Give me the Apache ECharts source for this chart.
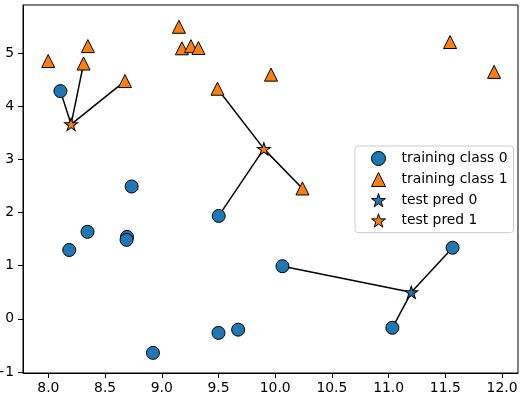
<!DOCTYPE html>
<head>
    <meta charset="utf-8"/>
    <style>
        html,body { height:100%; width:100%; margin:0; padding:0; background:#fff; }
    </style>
</head>
<body>

<div id="knn" style="width:524px;height:399px;"></div>

<script src="https://cdn.jsdelivr.net/npm/echarts@6/dist/echarts.min.js"></script>
<script type="text/javascript">

 // training points (forge)
 var trainX = [9.963, 11.033, 11.542, 8.693, 8.106, 8.310, 11.930, 9.673, 8.348, 8.675, 9.177, 10.240, 8.689,
               8.922, 9.491, 9.257, 7.998, 8.184, 8.734, 9.323, 10.064, 9.500, 8.345, 9.502, 9.151, 11.564];
 var trainY = [4.597, -0.168, 5.211, 1.543, 4.287, 4.806, 4.649, -0.203, 5.134, 4.476, 5.093, 2.455, 1.487,
               -0.640, 4.332, 5.133, 4.853, 1.296, 2.492, 5.098, 0.991, -0.264, 1.638, 1.938, 5.498, 1.339];
 var trainLabel = [1, 0, 1, 0, 0, 1, 1, 0, 1, 1, 1, 1, 0, 0, 1, 1, 1, 0, 0, 1, 0, 0, 0, 0, 1, 0];

 // test points and their predicted class
 var testX = [8.2, 9.9, 11.2];
 var testY = [3.662, 3.2, 0.5];
 var testPred = [1, 1, 0];

 var nNeighbors = 3;

 // tick labels
 var xTicks = [8.0, 8.5, 9.0, 9.5, 10.0, 10.5, 11.0, 11.5, 12.0];
 var yTicks = [-1, 0, 1, 2, 3, 4, 5];

 var blue = '#1f77b4', orange = '#ff7f0e';
 var font = 'DejaVu Sans';
 var starPath = 'path://M100 0L122.45 69.1L195.1 69.1L136.3 111.8L158.8 180.9L100 138.2L41.2 180.9L63.7 111.8L4.9 69.1L77.55 69.1Z';
 // path triangle keeps its shape in the legend, the built-in one gets stretched
 var triPath = 'path://M50 0L100 100L0 100Z';

 function pointsOf(xs, ys, labels, cls) {
     var out = [];
     for (var i = 0; i < xs.length; i++) {
         if (labels[i] === cls) out.push([xs[i], ys[i]]);
     }
     return out;
 }

 // segments from each test point to its k nearest training points
 var segments = [];
 for (var t = 0; t < testX.length; t++) {
     var idx = trainX.map(function (x, i) { return i; });
     idx.sort(function (a, b) {
         var da = Math.pow(trainX[a] - testX[t], 2) + Math.pow(trainY[a] - testY[t], 2);
         var db = Math.pow(trainX[b] - testX[t], 2) + Math.pow(trainY[b] - testY[t], 2);
         return da - db;
     });
     for (var k = 0; k < nNeighbors; k++) {
         segments.push({ coords: [[testX[t], testY[t]], [trainX[idx[k]], trainY[idx[k]]]] });
     }
 }

 function fmtY(v) { return v < 0 ? '\u2212' + Math.abs(v) : String(v); }

 var markEdge = { borderColor: '#000', borderWidth: 1, opacity: 1 };

 var option = {
     animation: false,
     backgroundColor: '#fff',
     grid: {
         left: 23, right: 6, top: 5, bottom: 26,
         outerBoundsMode: 'none',
         containLabel: false,
         show: true, borderColor: '#000', borderWidth: 1
     },
     legend: {
         data: ['training class 0', 'training class 1', 'test pred 0', 'test pred 1'],
         orient: 'vertical',
         left: 355, top: 146,
         padding: [5, 6, 5, 16],
         itemWidth: 14, itemHeight: 14, itemGap: 6,
         symbolKeepAspect: true,
         itemStyle: { borderWidth: 1, borderColor: '#000' },
         borderColor: '#cccccc', borderWidth: 1, borderRadius: 3,
         backgroundColor: 'rgba(255,255,255,0.8)',
         selectedMode: false,
         textStyle: { fontFamily: font, fontSize: 13.9, color: '#000', lineHeight: 14, padding: [0, 0, 0, 11] }
     },
     xAxis: {
         type: 'value', min: 7.776, max: 12.141,
         splitLine: { show: false },
         axisLine: { onZero: false, lineStyle: { color: '#000', width: 1 } },
         axisTick: { length: 5, lineStyle: { color: '#000' }, customValues: xTicks },
         axisLabel: {
             margin: 8, fontFamily: font, fontSize: 13.9, color: '#000',
             customValues: xTicks,
             formatter: function (v) { return v.toFixed(1); }
         }
     },
     yAxis: {
         type: 'value', min: -1.019, max: 5.908,
         splitLine: { show: false },
         axisLine: { onZero: false, lineStyle: { color: '#000', width: 1 } },
         axisTick: { length: 5, lineStyle: { color: '#000' }, customValues: yTicks },
         axisLabel: {
             margin: 9, fontFamily: font, fontSize: 13.9, color: '#000',
             customValues: yTicks,
             formatter: fmtY
         }
     },
     series: [
         {
             name: 'neighbors', type: 'lines', coordinateSystem: 'cartesian2d', z: 1,
             lineStyle: { color: '#000', width: 1.5, opacity: 1 },
             data: segments
         },
         {
             name: 'training class 0', type: 'scatter', z: 2, symbol: 'circle', symbolSize: 13,
             itemStyle: Object.assign({ color: blue }, markEdge),
             data: pointsOf(trainX, trainY, trainLabel, 0)
         },
         {
             name: 'training class 1', type: 'scatter', z: 2, symbol: triPath, symbolSize: 13,
             itemStyle: Object.assign({ color: orange }, markEdge),
             data: pointsOf(trainX, trainY, trainLabel, 1)
         },
         {
             name: 'test pred 0', type: 'scatter', z: 3, symbol: starPath, symbolSize: [13, 12.4],
             itemStyle: Object.assign({ color: blue }, markEdge),
             data: pointsOf(testX, testY, testPred, 0)
         },
         {
             name: 'test pred 1', type: 'scatter', z: 3, symbol: starPath, symbolSize: [13, 12.4],
             itemStyle: Object.assign({ color: orange }, markEdge),
             data: pointsOf(testX, testY, testPred, 1)
         }
     ]
 };

 var myChart = echarts.init(document.getElementById('knn'));
 myChart.setOption(option);

</script>
</body>
